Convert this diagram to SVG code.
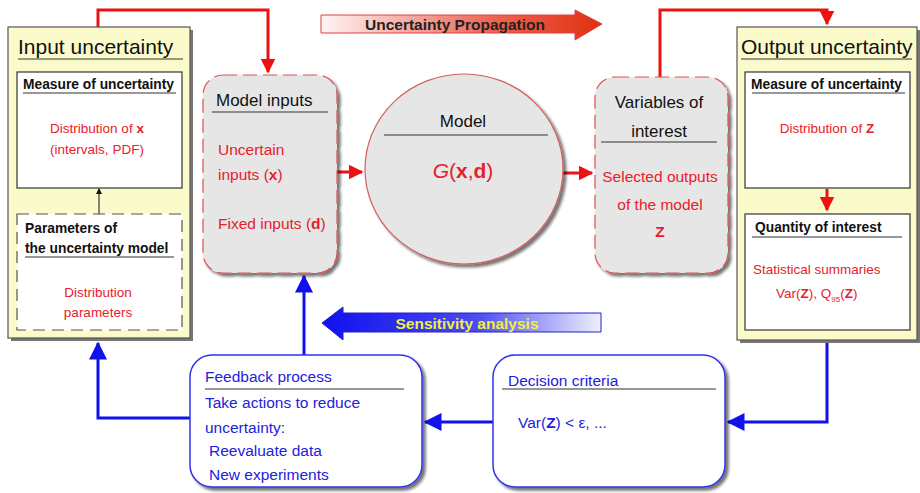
<svg xmlns="http://www.w3.org/2000/svg" width="920" height="493" viewBox="0 0 920 493">
<style>
text{font-family:"Liberation Sans",Arial,sans-serif}
.title{font-size:21px;fill:#111}
.h{font-size:13.8px;font-weight:bold;fill:#111}
.r{font-size:13.5px;fill:#e8202a}
.rm{font-size:15.5px;fill:#e8202a}
.k{font-size:17px;fill:#111}
.b{font-size:15.5px;fill:#2222dd}
.ul{stroke:#333;stroke-width:1.2}
.yel{fill:#fafacb;stroke:#555;stroke-width:1.2}
.wb{fill:#fff;stroke:#333;stroke-width:1.2}
.gray{fill:#e6e6e6;stroke:#e05050;stroke-width:1.2;stroke-dasharray:14 6}
.sh{fill:#777}
.red{fill:none;stroke:#ee1111;stroke-width:3}
.blue{fill:none;stroke:#1111ee;stroke-width:3}
.bb{fill:#fff;stroke:#3333ee;stroke-width:1.5}
</style>
<defs>
<marker id="ar" markerWidth="5" markerHeight="5" refX="4.5" refY="2.5" orient="auto" markerUnits="strokeWidth"><path d="M0,0 L5,2.5 L0,5 Z" fill="#ee1111"/></marker>
<marker id="ab" markerWidth="6" markerHeight="6" refX="5.5" refY="3" orient="auto" markerUnits="strokeWidth"><path d="M0,0 L6,3 L0,6 Z" fill="#1111ee"/></marker>
<marker id="ak" markerWidth="6" markerHeight="6" refX="5" refY="3" orient="auto" markerUnits="userSpaceOnUse"><path d="M0,0 L6,3 L0,6 Z" fill="#111"/></marker>
<linearGradient id="gp" x1="0" x2="1" y1="0" y2="0"><stop offset="0" stop-color="#fff4f4"/><stop offset="0.6" stop-color="#ee6655"/><stop offset="1" stop-color="#e03010"/></linearGradient>
<linearGradient id="gs" x1="0" x2="1" y1="0" y2="0"><stop offset="0" stop-color="#1010ee"/><stop offset="0.55" stop-color="#4a4af0"/><stop offset="1" stop-color="#f0f0ff"/></linearGradient>
<filter id="ds" x="-10%" y="-10%" width="130%" height="130%"><feGaussianBlur in="SourceAlpha" stdDeviation="1.5"/><feOffset dx="3" dy="3"/><feComponentTransfer><feFuncA type="linear" slope="0.55"/></feComponentTransfer><feMerge><feMergeNode/><feMergeNode in="SourceGraphic"/></feMerge></filter>
</defs>

<g id="connectors">
<path class="red" d="M98,27 V10 H268 V72" marker-end="url(#ar)"/>
<path class="red" d="M660,77 V10 H827 V24" marker-end="url(#ar)"/>
<path class="red" d="M337,172 H362" marker-end="url(#ar)"/>
<path class="red" d="M563,173 H592" marker-end="url(#ar)"/>
<path class="blue" d="M827,340 V422 H728" marker-end="url(#ab)"/>
<path class="blue" d="M493,422 H425" marker-end="url(#ab)"/>
<path class="blue" d="M190,418 H98 V343" marker-end="url(#ab)"/>
<path class="blue" d="M304,355 V276" marker-end="url(#ab)"/>
</g>

<g id="input-uncertainty">
<rect x="11" y="30" width="182" height="311" class="sh"/>
<rect x="8" y="27" width="182" height="311" class="yel"/>
<text x="18" y="54" class="title">Input uncertainty</text>
<line x1="18" y1="59" x2="183" y2="59" class="ul"/>
<g id="measure-input">
<rect x="17" y="72" width="165" height="116" class="wb"/>
<text x="23" y="89" class="h">Measure of uncertainty</text>
<line x1="23" y1="93" x2="176" y2="93" class="ul"/>
<text x="97" y="133" class="r" text-anchor="middle">Distribution of <tspan font-weight="bold">x</tspan></text>
<text x="97" y="154" class="r" text-anchor="middle">(intervals, PDF)</text>
</g>
<line x1="99" y1="214" x2="99" y2="189" stroke="#111" stroke-width="1" marker-end="url(#ak)"/>
<g id="parameters">
<rect x="17" y="214" width="165" height="116" fill="#fff" stroke="#555" stroke-width="1.2" stroke-dasharray="12 7"/>
<text x="25" y="233" class="h">Parameters of</text>
<text x="25" y="253" class="h">the uncertainty model</text>
<line x1="25" y1="257" x2="174" y2="257" class="ul"/>
<text x="98" y="297" class="r" text-anchor="middle">Distribution</text>
<text x="98" y="317" class="r" text-anchor="middle">parameters</text>
</g>
</g>

<g id="model-inputs">
<rect x="203" y="75" width="134" height="198" rx="20" class="gray" filter="url(#ds)"/>
<text x="216" y="106" class="k">Model inputs</text>
<line x1="212" y1="112" x2="328" y2="112" class="ul"/>
<text x="218" y="155" class="rm">Uncertain</text>
<text x="218" y="180" class="rm">inputs (<tspan font-weight="bold">x</tspan>)</text>
<text x="218" y="229" class="rm">Fixed inputs (<tspan font-weight="bold">d</tspan>)</text>
</g>

<g id="model">
<ellipse cx="464" cy="169" rx="99" ry="95" fill="#e6e6e6" stroke="#d06060" stroke-width="1.2" filter="url(#ds)"/>
<text x="463" y="127" class="k" text-anchor="middle">Model</text>
<line x1="384" y1="135" x2="548" y2="135" class="ul"/>
<text x="463" y="178" font-size="21" fill="#e8202a" text-anchor="middle"><tspan font-style="italic">G</tspan>(<tspan font-weight="bold">x</tspan>,<tspan font-weight="bold">d</tspan>)</text>
</g>

<g id="variables">
<rect x="595" y="77" width="133" height="196" rx="20" class="gray" filter="url(#ds)"/>
<text x="659" y="108" class="k" text-anchor="middle">Variables of</text>
<text x="659" y="137" class="k" text-anchor="middle">interest</text>
<line x1="601" y1="142" x2="717" y2="142" class="ul"/>
<text x="660" y="182" class="rm" text-anchor="middle">Selected outputs</text>
<text x="660" y="210" class="rm" text-anchor="middle">of the model</text>
<text x="660" y="237" class="rm" font-weight="bold" text-anchor="middle">Z</text>
</g>

<g id="output-uncertainty">
<rect x="740" y="30" width="180" height="313" class="sh"/>
<rect x="737" y="27" width="180" height="313" class="yel"/>
<text x="741" y="54" class="title">Output uncertainty</text>
<line x1="741" y1="59" x2="912" y2="59" class="ul"/>
<g id="measure-output">
<rect x="745" y="72" width="165" height="116" class="wb"/>
<text x="751" y="89" class="h">Measure of uncertainty</text>
<line x1="752" y1="93" x2="905" y2="93" class="ul"/>
<text x="827" y="133" class="r" text-anchor="middle">Distribution of <tspan font-weight="bold">Z</tspan></text>
</g>
<path class="red" d="M827,189 V210" marker-end="url(#ar)"/>
<g id="quantity">
<rect x="745" y="214" width="165" height="116" class="wb"/>
<text x="755" y="232" class="h">Quantity of interest</text>
<line x1="752" y1="237" x2="902" y2="237" class="ul"/>
<text x="753" y="274" class="r">Statistical summaries</text>
<text x="776" y="298" class="r">Var(<tspan font-weight="bold">Z</tspan>), Q<tspan font-size="8" dy="4">95</tspan><tspan dy="-4">(</tspan><tspan font-weight="bold">Z</tspan>)</text>
</g>
</g>

<g id="propagation">
<path d="M321,15 H575 V10 L602,24 L575,40 V33 H321 Z" fill="url(#gp)" stroke="#e04040" stroke-width="1"/>
<text x="455" y="30" font-size="15.5" font-weight="bold" fill="#222" text-anchor="middle">Uncertainty Propagation</text>
</g>

<g id="sensitivity">
<path d="M601,313 H343 V307 L322,323 L343,340 V332 H601 Z" fill="url(#gs)" stroke="#2020cc" stroke-width="1"/>
<text x="467" y="329" font-size="15.5" font-weight="bold" fill="#f0f040" text-anchor="middle">Sensitivity analysis</text>
</g>

<g id="feedback">
<rect x="190" y="355" width="232" height="132" rx="22" class="bb" filter="url(#ds)"/>
<text x="205" y="382" class="b">Feedback process</text>
<line x1="205" y1="389" x2="404" y2="389" class="ul"/>
<text x="205" y="408" class="b">Take actions to reduce</text>
<text x="205" y="433" class="b">uncertainty:</text>
<text x="209" y="456" class="b">Reevaluate data</text>
<text x="209" y="480" class="b">New experiments</text>
</g>

<g id="decision">
<rect x="493" y="355" width="232" height="132" rx="22" class="bb" filter="url(#ds)"/>
<text x="508" y="386" class="b">Decision criteria</text>
<line x1="502" y1="389" x2="716" y2="389" class="ul"/>
<text x="518" y="428" class="b" font-size="14.5">Var(<tspan font-weight="bold">Z</tspan>) &lt; ε, ...</text>
</g>
</svg>
